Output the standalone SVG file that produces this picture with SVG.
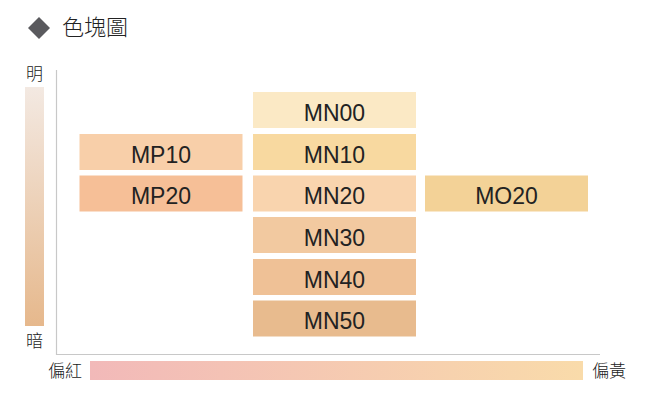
<svg xmlns="http://www.w3.org/2000/svg" width="650" height="400" viewBox="0 0 650 400">
<style>
.lbl{font-family:"Liberation Sans",Arial,sans-serif;font-size:23px;fill:#222;text-anchor:middle}
.cjk{font-family:"Noto Sans CJK TC","Noto Sans CJK SC",sans-serif;font-weight:300;fill:#222}
.ax{stroke:#c8c8c8;stroke-width:1.2;fill:none}
</style>
<defs>
<linearGradient id="gv" x1="0" y1="0" x2="0" y2="1">
<stop offset="0" stop-color="#F3E9E2"/>
<stop offset="1" stop-color="#E6B88C"/>
</linearGradient>
<linearGradient id="gh" x1="0" y1="0" x2="1" y2="0">
<stop offset="0" stop-color="#F2B9B9"/>
<stop offset="1" stop-color="#F9DBAA"/>
</linearGradient>
</defs>
<rect width="650" height="400" fill="#fff"/>
<g id="title">
<path d="M39,17 L50,28 L39,39 L28,28 Z" fill="#5a5a5e"/>
<text class="cjk" x="62" y="35" font-size="22">色塊圖</text>
</g>
<g id="axes">
<path class="ax" d="M56.5,70 V354.5 H600"/>
<rect x="25" y="87" width="19" height="239" fill="url(#gv)"/>
<rect x="90" y="361" width="493" height="19" fill="url(#gh)"/>
<text class="cjk" x="34.5" y="80" font-size="17" text-anchor="middle">明</text>
<text class="cjk" x="34.5" y="347" font-size="17" text-anchor="middle">暗</text>
<text class="cjk" x="48" y="377" font-size="17">偏紅</text>
<text class="cjk" x="592" y="377" font-size="17">偏黃</text>
</g>
<g id="MN00"><rect x="253" y="92" width="163" height="36" fill="#FBE9C5"/><text class="lbl" x="334.5" y="120.5">MN00</text></g>
<g id="MN10"><rect x="253" y="134" width="163" height="36" fill="#F8D9A0"/><text class="lbl" x="334.5" y="162.5">MN10</text></g>
<g id="MN20"><rect x="253" y="175.5" width="163" height="36" fill="#F9D4AE"/><text class="lbl" x="334.5" y="204">MN20</text></g>
<g id="MN30"><rect x="253" y="217" width="163" height="36" fill="#F2C9A0"/><text class="lbl" x="334.5" y="245.5">MN30</text></g>
<g id="MN40"><rect x="253" y="259" width="163" height="36" fill="#EFC196"/><text class="lbl" x="334.5" y="287.5">MN40</text></g>
<g id="MN50"><rect x="253" y="300.5" width="163" height="36" fill="#E8BB8E"/><text class="lbl" x="334.5" y="329">MN50</text></g>
<g id="MP10"><rect x="79.5" y="134" width="163" height="36" fill="#F8CFA9"/><text class="lbl" x="161" y="162.5">MP10</text></g>
<g id="MP20"><rect x="79.5" y="175.5" width="163" height="36" fill="#F6BF97"/><text class="lbl" x="161" y="204">MP20</text></g>
<g id="MO20"><rect x="425" y="175.5" width="163" height="36" fill="#F3D297"/><text class="lbl" x="506.5" y="204">MO20</text></g>
</svg>
